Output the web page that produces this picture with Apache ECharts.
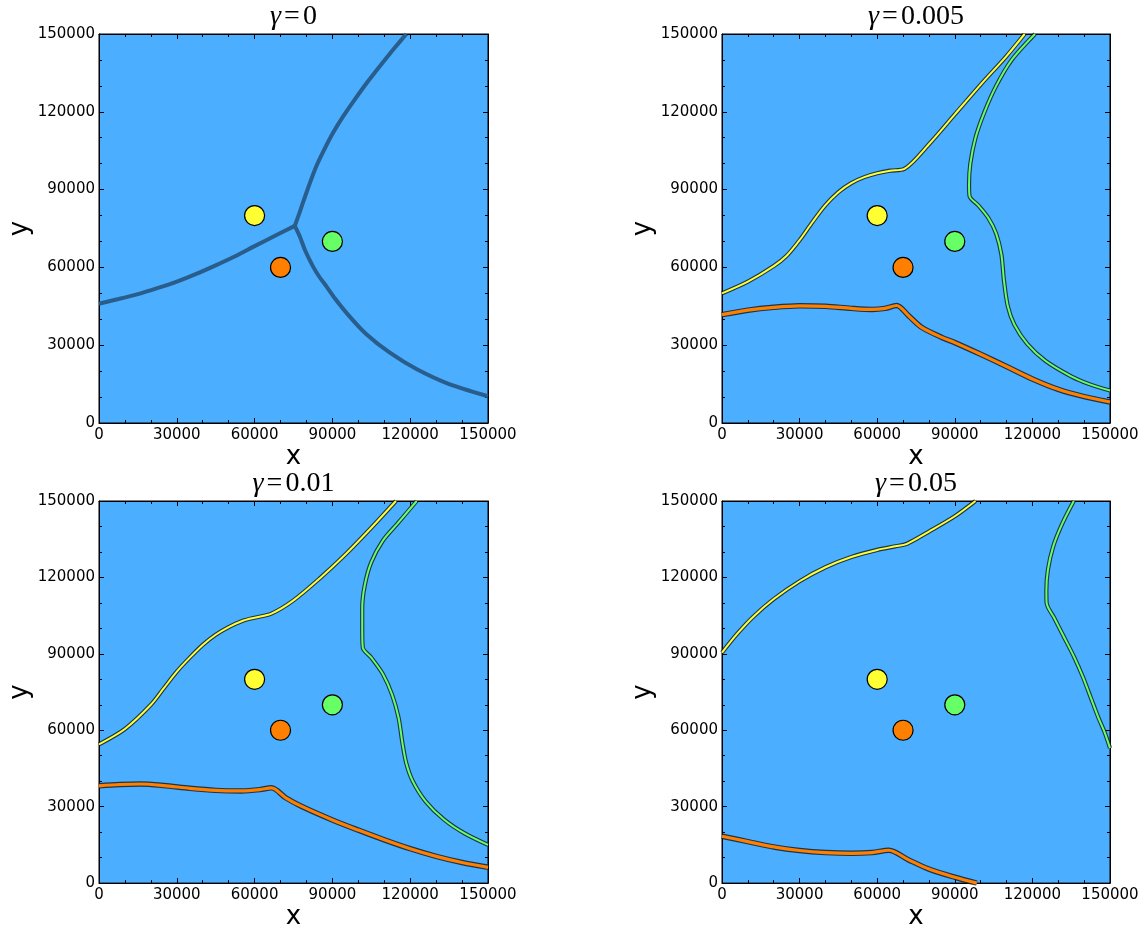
<!DOCTYPE html>
<html>
<head>
<meta charset="utf-8">
<script src="https://cdn.jsdelivr.net/npm/echarts@6/dist/echarts.min.js"></script>
<style>
html, body { margin: 0; padding: 0; background: #fff; }
#chart { width: 1145px; height: 931px; }
</style>
</head>
<body>
<div id="chart"></div>
<script>
// panel titles (gamma values)
var gammaLabels = ['0', '0.005', '0.01', '0.05'];

// the three sources: yellow, orange, green
var sourceColors = ['#ffff33', '#ff7f00', '#66ff66'];
var sourcePoints = [[60000, 80000], [70000, 60000], [90000, 70000]];

// gamma = 0 : plain boundaries
var bound0Left = [[0, 46000], [7500, 47800], [15000, 49700], [22500, 52000], [30000, 54500], [37500, 57500], [45000, 60800], [52500, 64300], [60000, 68200], [67500, 72000], [75500, 76000]];
var bound0Up = [[75500, 76000], [77300, 81000], [79000, 86000], [81300, 92500], [83800, 99000], [86900, 105500], [90200, 111800], [94200, 118300], [98600, 124700], [103300, 131200], [108200, 137500], [113300, 143800], [118500, 150000]];
var bound0Down = [[75500, 76000], [77400, 72000], [79500, 66500], [82500, 60400], [85000, 56300], [87700, 52700], [91000, 48000], [96000, 41800], [103000, 34300], [112000, 27200], [122400, 20800], [135000, 15000], [150000, 10300]];

// gamma = 0.005
var yellow005 = [[0, 50000], [10000, 54500], [20000, 60500], [25000, 64500], [30000, 70500], [35000, 77500], [40000, 84000], [45000, 89000], [50000, 92500], [55000, 94800], [60000, 96300], [65000, 97300], [70500, 98000], [80000, 107500], [90000, 119000], [100000, 130500], [110000, 141500], [117000, 150000]];
var orange005 = [[0, 41800], [10000, 43500], [20000, 44600], [30000, 45200], [40000, 45000], [50000, 44200], [58000, 43800], [63000, 44200], [67500, 45300], [72000, 41500], [77000, 37000], [85000, 33000], [90000, 31000], [100000, 26500], [110000, 21800], [120000, 17000], [130000, 13000], [140000, 10200], [150000, 8100]];
var green005 = [[121000, 150000], [112000, 140000], [106000, 130000], [101500, 120000], [98000, 110000], [96000, 100000], [95500, 92000], [95700, 87500], [99000, 84000], [103000, 79000], [106000, 73000], [108000, 65000], [109000, 55000], [110500, 45000], [113000, 38000], [118000, 30500], [125000, 24000], [135000, 18000], [142000, 15000], [150000, 12500]];

// gamma = 0.01
var yellow01 = [[0, 54500], [10000, 60500], [20000, 70000], [25000, 76500], [30000, 83000], [35000, 88500], [40000, 93500], [45000, 97500], [50000, 100500], [55000, 102800], [60000, 104200], [66500, 105800], [75000, 111000], [85000, 119500], [95000, 129000], [105000, 139500], [114500, 150000]];
var orange01 = [[0, 38200], [8000, 38700], [16000, 38900], [25000, 38300], [35000, 37200], [45000, 36400], [55000, 36200], [62000, 36700], [66500, 37400], [72000, 33500], [78000, 30200], [90000, 24800], [100000, 20800], [110000, 17000], [120000, 13500], [130000, 10500], [140000, 8100], [150000, 6200]];
var green01 = [[122500, 150000], [115000, 141000], [109500, 134500], [105000, 126000], [102500, 117000], [101500, 108000], [101500, 100000], [101700, 92500], [105000, 88500], [109500, 82000], [113000, 74000], [115500, 65000], [117000, 55000], [118500, 47000], [121000, 40000], [126000, 32000], [133000, 25000], [141000, 19500], [150000, 15000]];

// gamma = 0.05
var yellow05 = [[0, 90500], [6000, 98000], [12000, 104500], [20000, 111500], [30000, 118500], [40000, 124000], [50000, 128000], [60000, 130800], [67000, 132200], [71500, 133200], [80000, 138000], [90000, 144000], [98000, 150000]];
var orange05 = [[0, 18400], [10000, 16300], [20000, 14200], [30000, 12800], [40000, 12000], [50000, 11700], [58000, 12000], [64500, 12900], [72000, 9200], [80000, 5500], [90000, 2300], [98500, 0]];
var green05 = [[136000, 150000], [131500, 141000], [128000, 132000], [126000, 123000], [125400, 115000], [125500, 110000], [128500, 104000], [132000, 97000], [136000, 89000], [139500, 81000], [142500, 73000], [145500, 65000], [148000, 59000], [150000, 53000]];

var panelLines = [
    [bound0Left, bound0Up, bound0Down],
    [yellow005, orange005, green005],
    [yellow01, orange01, green01],
    [yellow05, orange05, green05]
];

var grids = [
    {left: 99, top: 34, width: 389, height: 389},
    {left: 722, top: 34, width: 388, height: 389},
    {left: 99, top: 501, width: 389, height: 388},
    {left: 722, top: 501, width: 388, height: 388}
];

var blue = '#4caeff';
var tickFont = {color: '#000', fontSize: 15, fontFamily: 'DejaVu Sans'};

function plainNumber(v){
    return String(v);
}

function baseAxis(i, position){
    return {
        type: 'value',
        gridIndex: i,
        position: position,
        min: 0,
        max: 150000,
        interval: 30000,
        axisLine: {show: true, onZero: false, lineStyle: {color: '#000', width: 1}},
        axisTick: {show: true, inside: true, length: 5, lineStyle: {color: '#000'}},
        minorTick: {show: true, splitNumber: 3, length: 3, lineStyle: {color: '#000'}},
        splitLine: {show: false},
        axisLabel: {show: false}
    };
}

var xAxes = [], yAxes = [], series = [];

grids.forEach(function(g, i){
    var xb = baseAxis(i, 'bottom');
    Object.assign(xb, {
        axisLabel: Object.assign({show: true, margin: 5, formatter: plainNumber}, tickFont),
        name: 'x',
        nameLocation: 'middle',
        nameGap: 13,
        nameTextStyle: {fontSize: 26, fontFamily: 'DejaVu Sans', color: '#000'}
    });
    var xt = baseAxis(i, 'top');
    Object.assign(xt, {
        name: '{g|γ}{e|=}{t|' + gammaLabels[i] + '}',
        nameLocation: 'middle',
        nameGap: 3,
        nameTextStyle: {
            rich: {
                g: {fontFamily: 'Liberation Serif', fontStyle: 'italic', fontSize: 28, color: '#000'},
                e: {fontFamily: 'Liberation Serif', fontSize: 28, color: '#000', padding: [0, 3, 0, 3]},
                t: {fontFamily: 'Liberation Serif', fontSize: 28, color: '#000'}
            }
        }
    });
    var yl = baseAxis(i, 'left');
    Object.assign(yl, {
        axisLabel: Object.assign({show: true, margin: 4, formatter: plainNumber}, tickFont),
        name: 'y',
        nameLocation: 'middle',
        nameRotate: 90,
        nameGap: 66,
        nameTextStyle: {fontSize: 26, fontFamily: 'DejaVu Sans', color: '#000'}
    });
    var yr = baseAxis(i, 'right');
    xAxes.push(xb, xt);
    yAxes.push(yl, yr);

    panelLines[i].forEach(function(data, k){
        var common = {
            type: 'line',
            xAxisIndex: 2 * i,
            yAxisIndex: 2 * i,
            data: data,
            showSymbol: false,
            smooth: i === 0 ? 0.2 : 0.3,
            silent: true,
            clip: true
        };
        if(i === 0){
            series.push(Object.assign({}, common, {lineStyle: {color: '#285d8c', width: 4}}));
        } else {
            var thick = k === 1;
            series.push(Object.assign({}, common, {lineStyle: {color: 'rgba(20,30,40,0.85)', width: thick ? 5.5 : 4.2}}));
            series.push(Object.assign({}, common, {lineStyle: {color: sourceColors[k], width: thick ? 3.2 : 2}}));
        }
    });

    series.push({
        type: 'scatter',
        xAxisIndex: 2 * i,
        yAxisIndex: 2 * i,
        symbolSize: 20,
        z: 5,
        silent: true,
        data: sourcePoints.map(function(p, k){
            return {value: p, itemStyle: {color: sourceColors[k]}};
        }),
        itemStyle: {borderColor: '#000', borderWidth: 1.2, opacity: 1}
    });
});

var chart = echarts.init(document.getElementById('chart'));
chart.setOption({
    animation: false,
    backgroundColor: '#fff',
    grid: grids.map(function(g){
        return Object.assign({show: true, backgroundColor: blue, borderColor: '#000', borderWidth: 1}, g);
    }),
    xAxis: xAxes,
    yAxis: yAxes,
    series: series
});
</script>
</body>
</html>
